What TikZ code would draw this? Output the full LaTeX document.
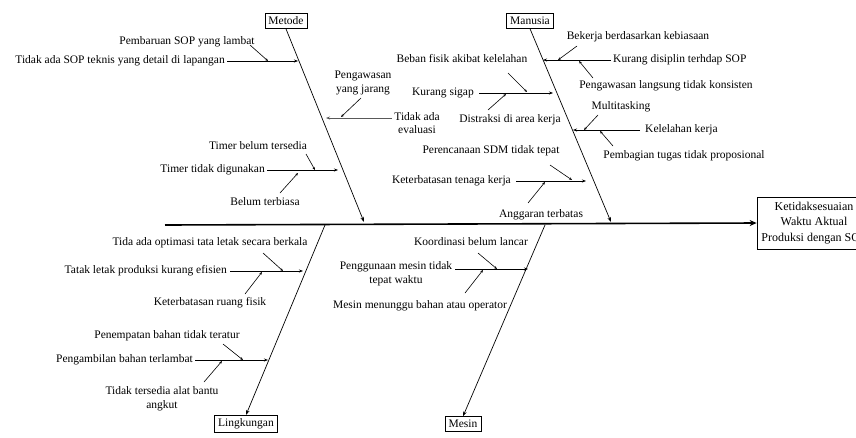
\documentclass[tikz,border=0pt]{standalone}
\usepackage{fontspec}
\setmainfont{Liberation Serif}
\usetikzlibrary{arrows.meta}
\begin{document}
\begin{tikzpicture}[x=1pt,y=-1pt,
  lbl/.style={inner sep=0pt, font=\fontsize{11.5}{13.8}\selectfont, align=center},
  catbox/.style={draw, line width=0.7pt, inner xsep=3.5pt, inner ysep=3.5pt, font=\fontsize{11.5}{12}\selectfont},
  spine/.style={line width=1.6pt, -{Stealth[length=7pt,width=6pt]}},
  bone/.style={line width=0.7pt, -{Stealth[length=5pt,width=3.5pt]}},
  sub/.style={line width=0.7pt, -{Stealth[length=4pt,width=3pt]}},
  tiny/.style={line width=0.6pt, -{Stealth[length=3pt,width=2.5pt]}},
]
\useasboundingbox (0,0) rectangle (856,437);

% effect and spine
\node[draw, line width=0.7pt, minimum width=114pt, minimum height=52pt, inner sep=0pt,
      align=center, font=\fontsize{12}{15.5}\selectfont] (eff) at (814,223)
      {Ketidaksesuaian\\Waktu Aktual\\Produksi dengan SOP};
\coordinate (sp) at (165,225);
\draw[spine] (sp) -- (eff.west);

% ---------- Metode ----------
\node[catbox] (metode) at (286,21) {Metode};
\coordinate (mtip) at (364,222);
\draw[bone] (metode.south) -- (mtip);

\node[lbl,anchor=east] (m1) at (225,61) {Tidak ada SOP teknis yang detail di lapangan};
\coordinate (m1e) at (298,61);
\draw[sub,shorten <=2pt] (m1) -- (m1e);
\node[lbl] (m1a) at (187,42) {Pembaruan SOP yang lambat};
\coordinate (m1as) at (250,45); \coordinate (m1ae) at (268,61);
\draw[tiny] (m1as) -- (m1ae);

\node[lbl] (m2a) at (363,83) {Pengawasan\\yang jarang};
\coordinate (m2as) at (361,98); \coordinate (m2ae) at (341,117);
\draw[tiny] (m2as) -- (m2ae);
\node[lbl] (m2) at (417,123) {Tidak ada\\evaluasi};
\coordinate (m2s) at (392,118); \coordinate (m2e) at (326,118);
\draw[sub,gray!70!black] (m2s) -- (m2e);

\node[lbl,anchor=east] (m3) at (265,170) {Timer tidak digunakan};
\coordinate (m3e) at (338,170);
\draw[sub,shorten <=2pt] (m3) -- (m3e);
\node[lbl] (m3a) at (258,146) {Timer belum tersedia};
\coordinate (m3as) at (306,154); \coordinate (m3ae) at (315,170);
\draw[tiny] (m3as) -- (m3ae);
\node[lbl] (m3b) at (265,202) {Belum terbiasa};
\coordinate (m3bs) at (280,193); \coordinate (m3be) at (298,173);
\draw[tiny] (m3bs) -- (m3be);

% ---------- Manusia ----------
\node[catbox] (manusia) at (530,21) {Manusia};
\coordinate (htip) at (611,222);
\draw[bone] (manusia.south) -- (htip);

\node[lbl,anchor=west] (h1) at (613,60) {Kurang disiplin terhdap SOP};
\coordinate (h1e) at (543,60);
\draw[sub,shorten <=2pt] (h1) -- (h1e);
\node[lbl] (h1a) at (638,37) {Bekerja berdasarkan kebiasaan};
\coordinate (h1as) at (577,46); \coordinate (h1ae) at (558,60);
\draw[tiny] (h1as) -- (h1ae);
\node[lbl] (h1b) at (666,86) {Pengawasan langsung tidak konsisten};
\coordinate (h1bs) at (593,78); \coordinate (h1be) at (579,61);
\draw[tiny] (h1bs) -- (h1be);

\node[lbl,anchor=east] (h2) at (474,93) {Kurang sigap};
\coordinate (h2e) at (553,93);
\draw[sub,shorten <=5pt] (h2) -- (h2e);
\node[lbl] (h2a) at (462,59) {Beban fisik akibat kelelahan};
\coordinate (h2as) at (508,73); \coordinate (h2ae) at (527,92);
\draw[tiny] (h2as) -- (h2ae);
\node[lbl] (h2b) at (510,120) {Distraksi di area kerja};
\coordinate (h2bs) at (488,110); \coordinate (h2be) at (506,94);
\draw[tiny] (h2bs) -- (h2be);

\node[lbl,anchor=west] (h3) at (645,130) {Kelelahan kerja};
\coordinate (h3e) at (573,130);
\draw[sub,shorten <=5pt] (h3) -- (h3e);
\node[lbl] (h3a) at (621,107) {Multitasking};
\coordinate (h3as) at (598,115); \coordinate (h3ae) at (584,130);
\draw[tiny] (h3as) -- (h3ae);
\node[lbl] (h3b) at (684,156) {Pembagian tugas tidak proposional};
\coordinate (h3bs) at (613,146); \coordinate (h3be) at (600,131);
\draw[tiny] (h3bs) -- (h3be);

\node[lbl,anchor=east] (h4) at (511,181) {Keterbatasan tenaga kerja};
\coordinate (h4e) at (586,181);
\draw[sub,shorten <=5pt] (h4) -- (h4e);
\node[lbl] (h4a) at (491,151) {Perencanaan SDM tidak tepat};
\coordinate (h4as) at (550,165); \coordinate (h4ae) at (572,180);
\draw[tiny] (h4as) -- (h4ae);
\node[lbl] (h4b) at (541,215) {Anggaran terbatas};
\coordinate (h4bs) at (528,203); \coordinate (h4be) at (545,182);
\draw[tiny] (h4bs) -- (h4be);

% ---------- Lingkungan ----------
\node[catbox] (ling) at (246,424) {Lingkungan};
\coordinate (lst) at (325,225);
\draw[bone] (lst) -- (ling.north);

\node[lbl,anchor=east] (l1) at (227,271) {Tatak letak produksi kurang efisien};
\coordinate (l1e) at (303,271);
\draw[sub,shorten <=3pt] (l1) -- (l1e);
\node[lbl] (l1a) at (210,243) {Tida ada optimasi tata letak secara berkala};
\coordinate (l1as) at (263,253); \coordinate (l1ae) at (283,271);
\draw[tiny] (l1as) -- (l1ae);
\node[lbl] (l1b) at (210,303) {Keterbatasan ruang fisik};
\coordinate (l1bs) at (245,294); \coordinate (l1be) at (262,272);
\draw[tiny] (l1bs) -- (l1be);

\node[lbl,anchor=east] (l2) at (193,360) {Pengambilan bahan terlambat};
\coordinate (l2e) at (268,360);
\draw[sub,shorten <=2pt] (l2) -- (l2e);
\node[lbl] (l2a) at (167,336) {Penempatan bahan tidak teratur};
\coordinate (l2as) at (223,344); \coordinate (l2ae) at (243,360);
\draw[tiny] (l2as) -- (l2ae);
\node[lbl] (l2b) at (162,399) {Tidak tersedia alat bantu\\angkut};
\coordinate (l2bs) at (204,382); \coordinate (l2be) at (222,361);
\draw[tiny] (l2bs) -- (l2be);

% ---------- Mesin ----------
\node[catbox] (mesin) at (463,424) {Mesin};
\coordinate (sst) at (545,225);
\draw[bone] (sst) -- (mesin.north);

\node[lbl] (s1) at (396,274) {Penggunaan mesin tidak\\tepat waktu};
\coordinate (s1s) at (455,269); \coordinate (s1e) at (528,269);
\draw[sub] (s1s) -- (s1e);
\node[lbl] (s1a) at (471,242) {Koordinasi belum lancar};
\coordinate (s1as) at (478,253); \coordinate (s1ae) at (497,269);
\draw[tiny] (s1as) -- (s1ae);
\node[lbl] (s1b) at (420,306) {Mesin menunggu bahan atau operator};
\coordinate (s1bs) at (465,293); \coordinate (s1be) at (483,270);
\draw[tiny] (s1bs) -- (s1be);
\end{tikzpicture}
\end{document}
